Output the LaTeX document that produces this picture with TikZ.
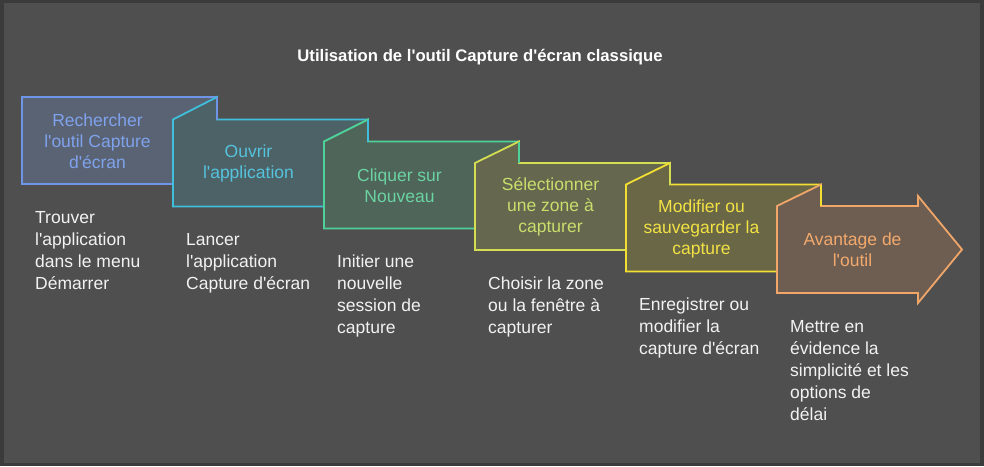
\documentclass[tikz,border=0pt]{standalone}
\usepackage{fontspec}
\setmainfont{Liberation Sans}[Ligatures=TeXOff]
\definecolor{framegray}{HTML}{3B3B3B}
\definecolor{bggray}{HTML}{4F4F4F}
\definecolor{descwhite}{HTML}{F2F2F2}
% step colours: line, fill, text
\definecolor{lineA}{HTML}{6F95E6}\definecolor{fillA}{HTML}{5A6374}\definecolor{textA}{HTML}{7FA2EC}
\definecolor{lineB}{HTML}{3FBFDC}\definecolor{fillB}{HTML}{4D6266}\definecolor{textB}{HTML}{55C3DD}
\definecolor{lineC}{HTML}{4FD29A}\definecolor{fillC}{HTML}{4F6559}\definecolor{textC}{HTML}{6BD3A2}
\definecolor{lineD}{HTML}{D5DE52}\definecolor{fillD}{HTML}{65674E}\definecolor{textD}{HTML}{C9DE6C}
\definecolor{lineE}{HTML}{F3DF32}\definecolor{fillE}{HTML}{6A6747}\definecolor{textE}{HTML}{F2E244}
\definecolor{lineF}{HTML}{EFA668}\definecolor{fillF}{HTML}{6E5E52}\definecolor{textF}{HTML}{F2A96C}
\tikzset{
  stepshape/.style={line width=1.8pt, line join=miter},
  steplabel/.style={align=center, inner sep=0pt, font=\fontsize{17.5}{21}\selectfont},
  desclabel/.style={align=left, anchor=north west, inner sep=0pt, text=descwhite,
    font=\fontsize{17.5}{22}\selectfont},
}
\begin{document}
\begin{tikzpicture}[x=1pt, y=-1pt]
            % Background
            \fill[framegray] (0,0) rectangle (984,466);
            \fill[bggray] (4,3) rectangle (980,463);

            % Title
            \node[anchor=base, inner sep=0pt, text=white, font=\fontsize{16.7}{20}\selectfont\bfseries]
              (title) at (480,61) {Utilisation de l'outil Capture d'écran classique};

            % Draw steps
            \filldraw[stepshape, draw=lineA, fill=fillA] (22,97) rectangle (217,184);

            \filldraw[stepshape, draw=lineB, fill=fillB] (173,119.5) -- (217,97) -- (217,119.5)
              -- (368,119.5) -- (368,206.5) -- (173,206.5) -- cycle;
            \draw[stepshape, lineA] (217,97) -- (217,119.5);

            \filldraw[stepshape, draw=lineC, fill=fillC] (324,141.5) -- (368,119.5) -- (368,141.5)
              -- (519,141.5) -- (519,228.5) -- (324,228.5) -- cycle;
            \draw[stepshape, lineB] (368,119.5) -- (368,141.5);

            \filldraw[stepshape, draw=lineD, fill=fillD] (475,163) -- (519,141.5) -- (519,163)
              -- (670,163) -- (670,250) -- (475,250) -- cycle;
            \draw[stepshape, lineC] (519,141.5) -- (519,163);

            \filldraw[stepshape, draw=lineE, fill=fillE] (626,184.5) -- (670,163) -- (670,184.5)
              -- (821,184.5) -- (821,271.5) -- (626,271.5) -- cycle;
            \draw[stepshape, lineD] (670,163) -- (670,184.5);

            \filldraw[stepshape, draw=lineF, fill=fillF] (777,206) -- (821,184.5) -- (821,206)
              -- (918,206) -- (918,196) -- (962,249.5) -- (918,303) -- (918,293)
              -- (777,293) -- cycle;
            \draw[stepshape, lineE] (821,184.5) -- (821,206);

            % Step labels
            \node[steplabel, text=textA] (s1) at (97.5,141) {Rechercher\\l'outil Capture\\d'écran};
            \node[steplabel, text=textB] (s2) at (248.5,163.5) {Ouvrir\\l'application};
            \node[steplabel, text=textC] (s3) at (399.5,185.5) {Cliquer sur\\Nouveau};
            \node[steplabel, text=textD] (s4) at (550.5,207) {Sélectionner\\une zone à\\capturer};
            \node[steplabel, text=textE] (s5) at (701.5,228.5) {Modifier ou\\sauvegarder la\\capture};
            \node[steplabel, text=textF] (s6) at (852.5,250) {Avantage de\\l'outil};

            % Descriptions
            \node[desclabel] (d1) at (35,207.6) {\strut Trouver\\l'application\\dans le menu\\Démarrer};
            \node[desclabel] (d2) at (186,230.1) {\strut Lancer\\l'application\\Capture d'écran};
            \node[desclabel] (d3) at (337,252.1) {\strut Initier une\\nouvelle\\session de\\capture};
            \node[desclabel] (d4) at (488,273.6) {\strut Choisir la zone\\ou la fenêtre à\\capturer};
            \node[desclabel] (d5) at (639,295.1) {\strut Enregistrer ou\\modifier la\\capture d'écran};
            \node[desclabel] (d6) at (790,316.6) {\strut Mettre en\\évidence la\\simplicité et les\\options de\\délai};
        \end{tikzpicture}
\end{document}
